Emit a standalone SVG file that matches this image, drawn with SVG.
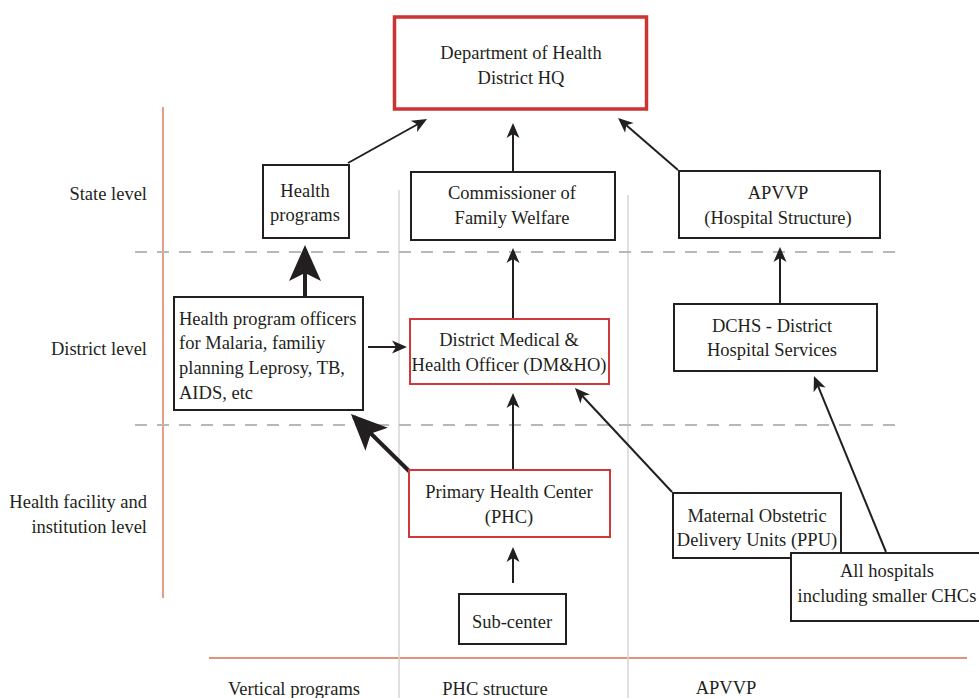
<svg xmlns="http://www.w3.org/2000/svg" width="979" height="698" viewBox="0 0 979 698" font-family="'Liberation Serif', 'Times New Roman', Times, serif">
<style>
text{font-family:"Liberation Serif","Times New Roman",Times,serif;font-size:18.5px;fill:#231f20}
.c{text-anchor:middle}
.r{text-anchor:end}
.box{fill:#fff;stroke:#231f20;stroke-width:2}
.rbox{fill:#fff;stroke:#d0393a;stroke-width:2}
.hq{fill:#fff;stroke:#cc3333;stroke-width:3.5}
.conn{stroke:#231f20;stroke-width:2;fill:none}
.thick{stroke:#231f20;stroke-width:4;fill:none}
.dash{stroke:#b8b8bc;stroke-width:2;stroke-dasharray:12 10}
.vgray{stroke:#d6d6d6;stroke-width:1.5}
.salmon{stroke:#e2937a;stroke-width:1.8}
</style>
<defs>
<marker id="ah" markerUnits="userSpaceOnUse" markerWidth="20" markerHeight="20" viewBox="-14 -8 20 16" refX="0" refY="0" orient="auto" overflow="visible">
<path d="M3,0 L-12,-6.5 L-8,0 L-12,6.5 Z" fill="#231f20"/>
</marker>
<marker id="ahb" markerUnits="userSpaceOnUse" markerWidth="44" markerHeight="36" viewBox="-36 -18 44 36" refX="0" refY="0" orient="auto" overflow="visible">
<path d="M4,0 L-32,-16 L-24,0 L-32,16 Z" fill="#231f20"/>
</marker>
</defs>

<g id="guides">
<line class="salmon" x1="163" y1="107" x2="163" y2="598"/>
<line class="salmon" x1="209" y1="658" x2="967" y2="658"/>
<line class="vgray" x1="399" y1="190" x2="399" y2="698"/>
<line class="vgray" x1="628" y1="195" x2="628" y2="698"/>
<line class="dash" x1="135" y1="252" x2="905" y2="252"/>
<line class="dash" x1="135" y1="425" x2="900" y2="425"/>
</g>

<g id="labels">
<text class="r" x="147" y="200">State level</text>
<text class="r" x="147" y="355">District level</text>
<text class="r" x="147" y="508">Health facility and</text>
<text class="r" x="147" y="533">institution level</text>
<text class="c" x="294" y="695">Vertical programs</text>
<text class="c" x="495" y="695">PHC structure</text>
<text class="c" x="726" y="694">APVVP</text>
</g>

<g id="connectors">
<line class="conn" x1="348" y1="163" x2="424.4" y2="120.5" marker-end="url(#ah)"/>
<line class="conn" x1="513" y1="171" x2="513" y2="126" marker-end="url(#ah)"/>
<line class="conn" x1="678" y1="170" x2="620.3" y2="120" marker-end="url(#ah)"/>
<line class="thick" x1="305" y1="296" x2="305" y2="249" marker-end="url(#ahb)"/>
<line class="conn" x1="368" y1="347" x2="404" y2="347" marker-end="url(#ah)"/>
<line class="conn" x1="513" y1="469" x2="513" y2="396" marker-end="url(#ah)"/>
<line class="conn" x1="513" y1="318" x2="513" y2="251" marker-end="url(#ah)"/>
<line class="thick" x1="410" y1="472" x2="353.8" y2="416.8" marker-end="url(#ahb)"/>
<line class="conn" x1="672" y1="492" x2="577" y2="390.2" marker-end="url(#ah)"/>
<line class="conn" x1="886" y1="552" x2="815.1" y2="378.8" marker-end="url(#ah)"/>
<line class="conn" x1="780" y1="303" x2="780" y2="250" marker-end="url(#ah)"/>
<line class="conn" x1="513" y1="583" x2="513" y2="550" marker-end="url(#ah)"/>
</g>

<g id="node-hq">
<rect class="hq" x="394.5" y="17" width="252" height="92"/>
<text class="c" x="521" y="59">Department of Health</text>
<text class="c" x="521" y="84">District HQ</text>
</g>

<g id="node-health-programs">
<rect class="box" x="263" y="165" width="86" height="73"/>
<text class="c" x="305" y="197">Health</text>
<text class="c" x="305" y="221">programs</text>
</g>

<g id="node-commissioner">
<rect class="box" x="411" y="172" width="204" height="68"/>
<text class="c" x="512" y="199">Commissioner of</text>
<text class="c" x="512" y="224">Family Welfare</text>
</g>

<g id="node-apvvp">
<rect class="box" x="679" y="171" width="201" height="67"/>
<text class="c" x="778" y="199">APVVP</text>
<text class="c" x="778" y="224">(Hospital Structure)</text>
</g>

<g id="node-officers">
<rect class="box" x="174" y="297" width="189" height="113"/>
<text x="179" y="325">Health program officers</text>
<text x="179" y="349">for Malaria, familiy</text>
<text x="179" y="374">planning Leprosy, TB,</text>
<text x="179" y="399">AIDS, etc</text>
</g>

<g id="node-dmho">
<rect class="rbox" x="410" y="319" width="199" height="65"/>
<text class="c" x="509" y="346">District Medical &amp;</text>
<text class="c" x="509" y="371">Health Officer (DM&amp;HO)</text>
</g>

<g id="node-dchs">
<rect class="box" x="674" y="304" width="203" height="67"/>
<text class="c" x="772" y="332">DCHS - District</text>
<text class="c" x="772" y="356">Hospital Services</text>
</g>

<g id="node-phc">
<rect class="rbox" x="409" y="470" width="201" height="67"/>
<text class="c" x="509" y="498">Primary Health Center</text>
<text class="c" x="509" y="523">(PHC)</text>
</g>

<g id="node-maternal">
<rect class="box" x="673" y="493" width="168" height="65"/>
<text class="c" x="757" y="522">Maternal Obstetric</text>
<text class="c" x="757" y="546">Delivery Units (PPU)</text>
</g>

<g id="node-hospitals">
<rect class="box" x="791" y="553" width="200" height="68"/>
<text class="c" x="887" y="577">All hospitals</text>
<text class="c" x="887" y="602">including smaller CHCs</text>
</g>

<g id="node-subcenter">
<rect class="box" x="459" y="594" width="107" height="50"/>
<text class="c" x="512" y="628">Sub-center</text>
</g>
</svg>
